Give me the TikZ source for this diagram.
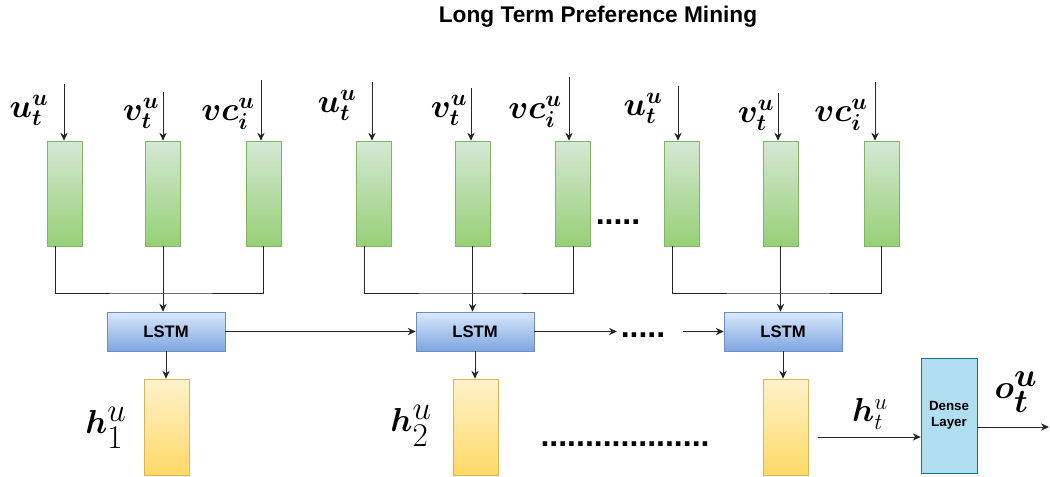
\documentclass[tikz,border=0pt]{standalone}
\usepackage{amsmath}
\usepackage{bm}
\usepackage{fontspec}
\setsansfont{Liberation Sans}
\usepackage{xcolor}
\usetikzlibrary{arrows.meta}
\definecolor{embtop}{HTML}{D5E8D4}
\definecolor{embbot}{HTML}{97D077}
\definecolor{embline}{HTML}{82B366}
\definecolor{lstmtop}{HTML}{DAE8FC}
\definecolor{lstmbot}{HTML}{7EA6E0}
\definecolor{lstmline}{HTML}{6C8EBF}
\definecolor{hidtop}{HTML}{FFF2CC}
\definecolor{hidbot}{HTML}{FFD966}
\definecolor{hidline}{HTML}{D6B656}
\definecolor{densefill}{HTML}{B1DDF0}
\definecolor{denseline}{HTML}{10739E}

\begin{document}
\begin{tikzpicture}[x=0.75pt,y=-0.75pt,
        emb/.style={draw=embline,top color=embtop,bottom color=embbot,minimum width=26.25pt,minimum height=78.75pt,inner sep=0pt},
        lstm/.style={draw=lstmline,top color=lstmtop,bottom color=lstmbot,minimum width=88.5pt,minimum height=29.25pt,inner sep=0pt,font=\sffamily\bfseries\fontsize{12.5}{14}\selectfont},
        hid/.style={draw=hidline,top color=hidtop,bottom color=hidbot,minimum width=33.75pt,minimum height=72pt,inner sep=0pt},
        arr/.style={draw=black!85,line width=0.75pt,-{Stealth[length=6pt,width=5.5pt]}},
        wire/.style={draw=black!85,line width=0.75pt},
        lab/.style={inner sep=0pt,font=\fontsize{26}{30}\selectfont},
        dots/.style={inner sep=0pt,font=\sffamily\bfseries\fontsize{24}{24}\selectfont}]
        \useasboundingbox (0,0) rectangle (1050,476);
        \node[font=\sffamily\bfseries\fontsize{17}{20}\selectfont](title) at (598,17) {Long Term Preference Mining};
        % embedding columns
        \node[emb](a1) at (64.5,193.5) {};
        \node[emb](b1) at (163,193.5) {};
        \node[emb](c1) at (263.5,193.5) {};
        \node[emb](a2) at (374,193.5) {};
        \node[emb](b2) at (472.5,193.5) {};
        \node[emb](c2) at (573,193.5) {};
        \node[emb](a3) at (681.5,193.5) {};
        \node[emb](b3) at (780.5,193.5) {};
        \node[emb](c3) at (881.5,193.5) {};
        \node[dots](d1) at (618,222) {.....};
        % inputs
        \node[lab](ua1) at (29,110) {$\boldsymbol{u_t^u}$};
        \node[lab](vb1) at (141,113) {$\boldsymbol{v_t^u}$};
        \node[lab](vc1) at (228,114) {$\boldsymbol{vc_i^u}$};
        \node[lab](ua2) at (337,105) {$\boldsymbol{u_t^u}$};
        \node[lab](vb2) at (449,110) {$\boldsymbol{v_t^u}$};
        \node[lab](vc2) at (535,112) {$\boldsymbol{vc_i^u}$};
        \node[lab](ua3) at (643,108) {$\boldsymbol{u_t^u}$};
        \node[lab](vb3) at (756,115) {$\boldsymbol{v_t^u}$};
        \node[lab](vc3) at (841,115) {$\boldsymbol{vc_i^u}$};
        \coordinate(ia1) at (64,84);
        \coordinate(ib1) at (163,92);
        \coordinate(ic1) at (261,80);
        \coordinate(ia2) at (372,82);
        \coordinate(ib2) at (471,88);
        \coordinate(ic2) at (569,77);
        \coordinate(ia3) at (678,86);
        \coordinate(ib3) at (778,93);
        \coordinate(ic3) at (875,82);
        \draw[arr](ia1)--(ia1|-a1.north);
        \draw[arr](ib1)--(ib1|-b1.north);
        \draw[arr](ic1)--(ic1|-c1.north);
        \draw[arr](ia2)--(ia2|-a2.north);
        \draw[arr](ib2)--(ib2|-b2.north);
        \draw[arr](ic2)--(ic2|-c2.north);
        \draw[arr](ia3)--(ia3|-a3.north);
        \draw[arr](ib3)--(ib3|-b3.north);
        \draw[arr](ic3)--(ic3|-c3.north);
        % lstm chain
        \node[lstm](l1) at (166,331.5) {LSTM};
        \node[lstm](l2) at (475,331.5) {LSTM};
        \node[lstm](l3) at (783,331.5) {LSTM};
        \coordinate(j1) at (163,293);
        \coordinate(j2) at (472,293);
        \coordinate(j3) at (780,293);
        \draw[wire]([xshift=-6.5pt]a1.south)|-(j1)-|(c1.south);
        \draw[wire]([xshift=-7pt]a2.south)|-(j2)-|(c2.south);
        \draw[wire]([xshift=-6.5pt]a3.south)|-(j3)-|(c3.south);
        \draw[arr](b1.south)--(b1.south|-l1.north);
        \draw[arr](b2.south)--(b2.south|-l2.north);
        \draw[arr](b3.south)--(b3.south|-l3.north);
        \draw[arr](l1.east)--(l2.west);
        \coordinate(e2) at (617,331.5);
        \coordinate(s3) at (683,331.5);
        \node[dots](d2) at (643,335) {.....};
        \draw[arr](l2.east)--(e2);
        \draw[arr](s3)--(l3.west);
        % hidden states
        \node[hid](y1) at (166.5,427) {};
        \node[hid](y2) at (475.5,427) {};
        \node[hid](y3) at (785.5,427) {};
        \draw[arr](l1.south)--(l1.south|-y1.north);
        \draw[arr](l2.south)--(l2.south|-y2.north);
        \draw[arr](l3.south)--(l3.south|-y3.north);
        \node[lab,font=\fontsize{34}{38}\selectfont](h1) at (106,428) {$\boldsymbol{h}_1^u$};
        \node[lab,font=\fontsize{34}{38}\selectfont](h2) at (411,426) {$\boldsymbol{h}_2^u$};
        \node[dots](d3) at (625,444) {...................};
        % dense layer
        \node[draw=denseline,fill=densefill,minimum width=42pt,minimum height=86.25pt,inner sep=0pt,align=center,font=\sffamily\bfseries\fontsize{10}{12}\selectfont](dl) at (949,415.5) {Dense\\Layer};
        \coordinate(ht) at (818,437);
        \coordinate(oc) at (1049,427);
        \draw[arr](ht)--(ht-|dl.west);
        \draw[arr](dl.east|-oc)--(oc);
        \node[lab,font=\fontsize{26}{30}\selectfont](htl) at (870,414) {$\boldsymbol{h}_t^u$};
        \node[lab,font=\fontsize{36}{40}\selectfont](ot) at (1016,392) {$\boldsymbol{o_t^u}$};
\end{tikzpicture}
\end{document}
